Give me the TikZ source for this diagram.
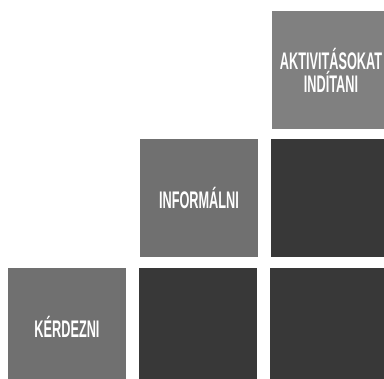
\documentclass[tikz,border=0pt]{standalone}
\usepackage{fontspec}
\newfontfamily\narrowfont[FakeStretch=0.53]{Liberation Sans}
\usepackage{tikz}
\usetikzlibrary{positioning}
\definecolor{tilelight}{RGB}{112,112,112}
\definecolor{tiletop}{RGB}{128,128,128}
\definecolor{tiledark}{RGB}{56,56,56}

\begin{document}
\begin{tikzpicture}[x=1pt,y=1pt,
	tile/.style={draw=none,minimum size=118pt,inner sep=0pt,outer sep=0pt},
	tilelabel/.style={tile,fill=tilelight,text=white,align=center,font=\narrowfont\bfseries\fontsize{24}{23}\selectfont}]
	\useasboundingbox (0,0) rectangle (384,-379);
	\node[tilelabel,fill=tiletop] (aktivitasok) at (331,-70) {AKTIVITÁSOKAT\\INDÍTANI};
	\node[tilelabel] (informalni) at (199,-198) {INFORMÁLNI};
	\node[tile,fill=tiledark,right=13pt of informalni] (sotet1) {};
	\node[tilelabel] (kerdezni) at (67,-327) {KÉRDEZNI};
	\node[tile,fill=tiledark,right=13pt of kerdezni] (sotet2) {};
	\node[tile,fill=tiledark,right=13pt of sotet2] (sotet3) {};
\end{tikzpicture}
\end{document}
